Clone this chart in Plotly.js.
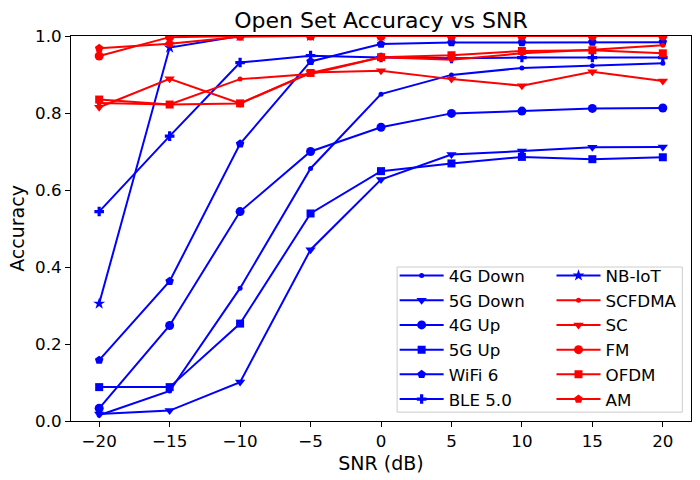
<!DOCTYPE html>
<html>
<head>
<meta charset="utf-8">
<script src="https://cdn.plot.ly/plotly-3.0.1.min.js"></script>
<style>
  html, body { margin: 0; padding: 0; background: #fff; }
  #chart { width: 700px; height: 480px; }
</style>
</head>
<body>
<div id="chart"></div>
<script>
// SNR values (dB)
const snr = [-20, -15, -10, -5, 0, 5, 10, 15, 20];

// Series names
const seriesNames = ["4G Down", "5G Down", "4G Up", "5G Up", "WiFi 6", "BLE 5.0",
                     "NB-IoT", "SCFDMA", "SC", "FM", "OFDM", "AM"];

// Accuracy values
const acc4GDown = [0.015, 0.078, 0.345, 0.656, 0.849, 0.899, 0.917, 0.923, 0.929];
const acc5GDown = [0.018, 0.027, 0.101, 0.445, 0.627, 0.692, 0.701, 0.711, 0.712];
const acc4GUp   = [0.033, 0.248, 0.544, 0.700, 0.763, 0.799, 0.805, 0.812, 0.813];
const acc5GUp   = [0.088, 0.088, 0.253, 0.539, 0.649, 0.669, 0.686, 0.680, 0.685];
const accWiFi6  = [0.158, 0.363, 0.720, 0.934, 0.979, 0.983, 0.983, 0.984, 0.984];
const accBLE5   = [0.544, 0.740, 0.931, 0.949, 0.944, 0.942, 0.944, 0.944, 0.944];
const accNBIoT  = [0.305, 0.970, 1.000, 1.000, 1.000, 1.000, 1.000, 1.000, 1.000];
const accSCFDMA = [0.826, 0.822, 0.888, 0.901, 0.945, 0.938, 0.955, 0.964, 0.976];
const accSC     = [0.815, 0.889, 0.825, 0.905, 0.910, 0.888, 0.871, 0.907, 0.883];
const accFM     = [0.948, 0.997, 1.000, 1.000, 0.999, 1.000, 1.000, 1.000, 1.000];
const accOFDM   = [0.835, 0.822, 0.825, 0.904, 0.945, 0.950, 0.961, 0.963, 0.955];
const accAM     = [0.968, 0.980, 0.998, 1.000, 1.000, 1.000, 1.000, 1.000, 1.000];

const yTickVals = [0, 0.2, 0.4, 0.6, 0.8, 1.0];
const yTickText = ["0.0", "0.2", "0.4", "0.6", "0.8", "1.0"];
const xTickVals = [-20, -15, -10, -5, 0, 5, 10, 15, 20];

const seriesValues = [acc4GDown, acc5GDown, acc4GUp, acc5GUp, accWiFi6, accBLE5,
                      accNBIoT, accSCFDMA, accSC, accFM, accOFDM, accAM];

// styling (not data)
const styles = [
  {c: "#0000ff", s: "circle", z: 5},
  {c: "#0000ff", s: "triangle-down", z: 9},
  {c: "#0000ff", s: "circle", z: 9},
  {c: "#0000ff", s: "square", z: 8},
  {c: "#0000ff", s: "pentagon", z: 9},
  {c: "#0000ff", s: "cross", z: 8},
  {c: "#0000ff", s: "star", z: 9},
  {c: "#ff0000", s: "circle", z: 5},
  {c: "#ff0000", s: "triangle-down", z: 9},
  {c: "#ff0000", s: "circle", z: 9},
  {c: "#ff0000", s: "square", z: 8},
  {c: "#ff0000", s: "pentagon", z: 9}
];

const traces = seriesNames.map((name, i) => ({
  type: "scatter",
  mode: "lines+markers",
  name: name,
  x: snr,
  y: seriesValues[i],
  legend: i < 6 ? "legend" : "legend2",
  line: {color: styles[i].c, width: 2},
  marker: {color: styles[i].c, symbol: styles[i].s, size: styles[i].z,
           line: {width: 0}}
}));

const FONT = "DejaVu Sans, Verdana, sans-serif";
const legendFont = {family: FONT, size: 16.7, color: "#000"};

const layout = {
  width: 700,
  height: 480,
  margin: {l: 71, r: 9, t: 36, b: 59, pad: 0},
  paper_bgcolor: "#ffffff",
  plot_bgcolor: "#ffffff",
  font: {family: FONT, color: "#000000", size: 16.7},
  title: {
    text: "Open Set Accuracy vs SNR",
    font: {family: FONT, size: 22, color: "#000"},
    x: 0.5, xref: "paper", xanchor: "center",
    y: 1, yref: "paper", yanchor: "bottom", pad: {b: 8}
  },
  showlegend: true,
  legend: {
    x: 0.522, xanchor: "left", xref: "paper",
    y: 0.423, yanchor: "top", yref: "paper",
    bgcolor: "rgba(0,0,0,0)",
    borderwidth: 0,
    itemwidth: 44,
    font: legendFont,
    traceorder: "normal"
  },
  legend2: {
    x: 0.775, xanchor: "left", xref: "paper",
    y: 0.423, yanchor: "top", yref: "paper",
    bgcolor: "rgba(0,0,0,0)",
    borderwidth: 0,
    itemwidth: 44,
    font: legendFont,
    traceorder: "normal"
  },
  shapes: [{
    type: "rect", xref: "paper", yref: "paper", layer: "above",
    x0: 0.526, x1: 0.986, y0: 0.023, y1: 0.40,
    fillcolor: "rgba(255,255,255,0.8)",
    line: {color: "#cccccc", width: 1}
  }],
  xaxis: {
    range: [-22, 22],
    tickmode: "array",
    tickvals: xTickVals,
    ticks: "outside",
    ticklen: 5,
    tickwidth: 1,
    tickcolor: "#000",
    showline: true,
    linecolor: "#000",
    linewidth: 1,
    mirror: true,
    showgrid: false,
    zeroline: false,
    tickfont: {family: FONT, size: 16.7, color: "#000"},
    title: {text: "SNR (dB)", font: {family: FONT, size: 19, color: "#000"}, standoff: 6},
    automargin: false
  },
  yaxis: {
    range: [0, 1],
    tickmode: "array",
    tickvals: yTickVals,
    ticktext: yTickText,
    ticks: "outside",
    ticklen: 5,
    tickwidth: 1,
    tickcolor: "#000",
    showline: true,
    linecolor: "#000",
    linewidth: 1,
    mirror: true,
    showgrid: false,
    zeroline: false,
    tickfont: {family: FONT, size: 16.7, color: "#000"},
    title: {text: "Accuracy", font: {family: FONT, size: 19, color: "#000"}, standoff: 5},
    automargin: false
  }
};

Plotly.newPlot("chart", traces, layout, {displayModeBar: false, staticPlot: true});
</script>
</body>
</html>
